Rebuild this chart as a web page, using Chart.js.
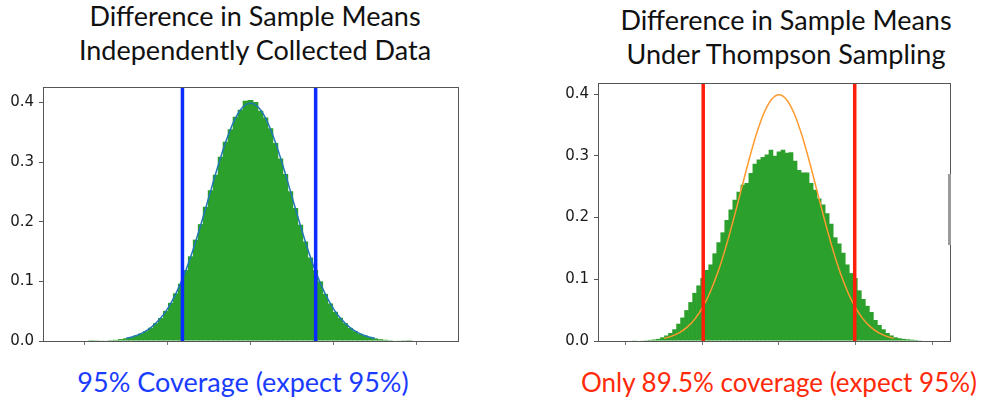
<!DOCTYPE html>
<html>
<head>
<meta charset="utf-8">
<script src="https://cdn.jsdelivr.net/npm/chart.js@4"></script>
<style>
  body { margin: 0; width: 987px; height: 400px; background: #fff; position: relative; overflow: hidden; font-family: Lato, "Noto Sans", sans-serif; }
  canvas { position: absolute; }
  .title { position: absolute; text-align: center; font-size: 27px; line-height: 34px; color: #111; white-space: nowrap; }
  .caption { position: absolute; text-align: center; font-size: 27px; white-space: nowrap; }
</style>
</head>
<body>
<div class="title" style="left:55px; width:400px; top:-1px;">Difference in Sample Means<br>Independently Collected Data</div>
<div class="title" style="left:586px; width:400px; top:3px;">Difference in Sample Means<br>Under Thompson Sampling</div>
<canvas id="indep" width="462" height="290" style="left:0px; top:73px;"></canvas>
<canvas id="thompson" width="400" height="294" style="left:555px; top:69px;"></canvas>
<div style="position:absolute; left:948px; top:174px; width:3px; height:71px; background:#9a9a9a;"></div>
<div class="caption" style="left:43px; width:400px; top:365px; color:#1a3cff;">95% Coverage (expect 95%)</div>
<div class="caption" style="left:579px; width:400px; top:366px; font-size:26px; color:#ff2a0a;">Only 89.5% coverage (expect 95%)</div>
<script>
// histogram bins (difference in sample means, standardized)
const indepBinStart = -3.84, indepBinWidth = 0.12;
const indepHeights = [
  0.0002, 0.0004, 0.0006, 0.0010, 0.0015, 0.0020, 0.0032, 0.0045, 0.0062, 0.0090,
  0.0125, 0.0165, 0.0222, 0.0300, 0.0385, 0.0505, 0.0640, 0.0800, 0.0960, 0.1190,
  0.1420, 0.1700, 0.1960, 0.2250, 0.2530, 0.2790, 0.3090, 0.3340, 0.3550, 0.3760,
  0.3880, 0.4030, 0.4040, 0.4010, 0.3860, 0.3750, 0.3570, 0.3320, 0.3060, 0.2800,
  0.2510, 0.2230, 0.1950, 0.1670, 0.1400, 0.1190, 0.1000, 0.0790, 0.0630, 0.0490,
  0.0390, 0.0300, 0.0220, 0.0165, 0.0120, 0.0090, 0.0062, 0.0044, 0.0031, 0.0021,
  0.0014, 0.0009, 0.0006, 0.0004, 0.0002
];
const tsBinStart = -3.78, tsBinWidth = 0.105;
const tsHeights = [
  0.0005, 0.0008, 0.0010, 0.0013, 0.0018, 0.0025, 0.0035, 0.0060, 0.0090, 0.0130,
  0.0190, 0.0280, 0.0380, 0.0500, 0.0630, 0.0780, 0.0900, 0.1020, 0.1150, 0.1240,
  0.1420, 0.1600, 0.1760, 0.1960, 0.2130, 0.2290, 0.2420, 0.2530, 0.2560, 0.2720,
  0.2870, 0.2940, 0.2980, 0.3020, 0.3100, 0.3000, 0.3070, 0.3100, 0.3050, 0.3060,
  0.2920, 0.2770, 0.2730, 0.2730, 0.2560, 0.2450, 0.2310, 0.2210, 0.2070, 0.1900,
  0.1680, 0.1580, 0.1430, 0.1240, 0.1100, 0.1020, 0.0820, 0.0680, 0.0570, 0.0470,
  0.0340, 0.0260, 0.0190, 0.0130, 0.0090, 0.0060, 0.0045, 0.0035, 0.0028, 0.0022,
  0.0017, 0.0012, 0.0008
];
// reference normal curve
const curveX = [-3.0, -2.8, -2.6, -2.4, -2.2, -2.0, -1.8, -1.6, -1.4, -1.2, -1.0, -0.8, -0.6, -0.4, -0.2, 0.0,
                0.2, 0.4, 0.6, 0.8, 1.0, 1.2, 1.4, 1.6, 1.8, 2.0, 2.2, 2.4, 2.6, 2.8, 3.0];
const curveY = [0.0044, 0.0079, 0.0136, 0.0224, 0.0355, 0.0540, 0.0790, 0.1109, 0.1497, 0.1942, 0.2420, 0.2897, 0.3332, 0.3683, 0.3910, 0.3989,
                0.3910, 0.3683, 0.3332, 0.2897, 0.2420, 0.1942, 0.1497, 0.1109, 0.0790, 0.0540, 0.0355, 0.0224, 0.0136, 0.0079, 0.0044];
// interval bounds
const indepBounds = [-1.64, 1.57];
const tsBounds = [-1.98, 1.98];
const xTicks = [-4, -2, 0, 2, 4];
const yTicks = [0, 0.1, 0.2, 0.3, 0.4];

function bins(start, width, heights) {
  return heights.map((h, i) => ({ x: start + i * width, y: h }));
}

const frame = {
  id: 'frame',
  afterDatasetsDraw(chart) {
    const a = chart.chartArea, c = chart.ctx;
    c.save();
    c.strokeStyle = '#555';
    c.lineWidth = 1;
    c.strokeRect(Math.round(a.left) + 0.5, Math.round(a.top) + 0.5, Math.round(a.right - a.left), Math.round(a.bottom - a.top));
    c.restore();
  }
};

function makeChart(id, o) {
  const vlines = o.bounds.map(b => ({
    type: 'line',
    data: [{ x: b, y: 0 }, { x: b, y: o.ymax }],
    borderColor: o.lineColor,
    borderWidth: 3.5,
    pointRadius: 0,
    order: 1
  }));
  new Chart(document.getElementById(id), {
    data: {
      datasets: [
        {
          type: 'bar',
          data: bins(o.start, o.width, o.heights),
          backgroundColor: '#2ca02c',
          borderWidth: 0,
          barPercentage: 1.15,
          categoryPercentage: 1,
          order: 3
        },
        {
          type: 'line',
          data: curveX.map((x, i) => ({ x: x, y: curveY[i] })),
          borderColor: o.curveColor,
          borderWidth: 1.5,
          pointRadius: 0,
          cubicInterpolationMode: 'monotone',
          order: 2
        },
        ...vlines
      ]
    },
    options: {
      responsive: false,
      animation: false,
      devicePixelRatio: 1,
      layout: { padding: { top: 10, right: o.padRight, left: 0, bottom: 0 } },
      plugins: { legend: { display: false }, tooltip: { enabled: false } },
      scales: {
        x: {
          type: 'linear',
          offset: false,
          min: o.xmin, max: o.xmax,
          afterBuildTicks: s => { s.ticks = xTicks.map(v => ({ value: v })); },
          afterFit: s => { s.height = 22; },
          ticks: { display: false },
          border: { display: false },
          grid: { offset: false, drawOnChartArea: false, drawTicks: true, tickLength: 4, color: '#777' }
        },
        y: {
          min: 0, max: o.ymax,
          afterBuildTicks: s => { s.ticks = yTicks.map(v => ({ value: v })); },
          afterFit: s => { s.width = 43; },
          ticks: {
            padding: 5,
            color: '#1a1a1a',
            font: { family: 'DejaVu Sans', size: 15 },
            callback: v => v.toFixed(1)
          },
          border: { display: false },
          grid: { drawOnChartArea: false, drawTicks: true, tickLength: 4, color: '#555' }
        }
      }
    },
    plugins: [frame]
  });
}

makeChart('indep', {
  start: indepBinStart, width: indepBinWidth, heights: indepHeights,
  bounds: indepBounds, lineColor: '#0a2cff', curveColor: '#1f77b4',
  xmin: -5, xmax: 5, ymax: 0.426, padRight: 4
});
makeChart('thompson', {
  start: tsBinStart, width: tsBinWidth, heights: tsHeights,
  bounds: tsBounds, lineColor: '#ff1e0a', curveColor: '#ff9a2e',
  xmin: -4.73, xmax: 4.47, ymax: 0.418, padRight: 5
});
</script>
</body>
</html>
